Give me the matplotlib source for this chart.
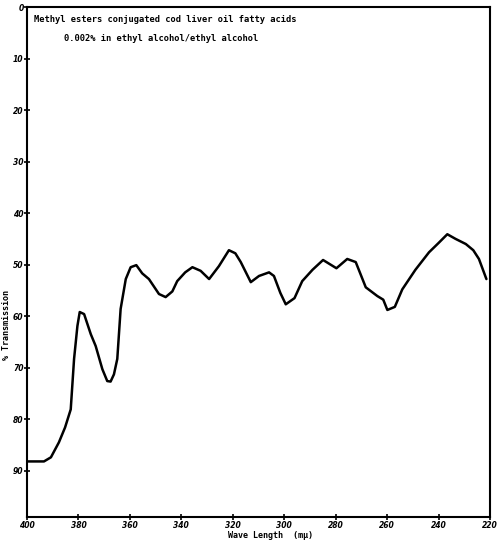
import numpy as np
import matplotlib
matplotlib.use("Agg")
import matplotlib.pyplot as plt

# wavelength (m-mu) and % transmission
wavelength = [400, 393.4, 390.7, 387.6, 385.2, 383.0, 381.7, 380.4, 379.5, 377.8,
              375.2, 373.3, 370.7, 368.8, 367.5, 366.2, 364.9, 363.6, 361.6, 359.7,
              357.5, 355.2, 352.6, 348.7, 346.1, 343.5, 341.6, 338.5, 335.7, 332.5,
              329.2, 325.4, 321.5, 319.0, 316.9, 313.0, 309.8, 305.9, 304.0, 301.5,
              299.4, 296.0, 293.0, 289.0, 284.9, 279.7, 275.5, 272.2, 268.3, 263.8,
              261.5, 259.9, 257.0, 254.1, 249.0, 243.7, 240.0, 236.6, 233.4, 229.4,
              226.5, 224.3, 221.4]
transmission = [88.2, 88.2, 87.4, 84.5, 81.6, 78.1, 68.3, 61.9, 59.2, 59.6,
                63.5, 65.8, 70.3, 72.6, 72.7, 71.3, 68.3, 58.6, 52.8, 50.5,
                50.1, 51.7, 52.8, 55.7, 56.3, 55.2, 53.2, 51.5, 50.5, 51.2,
                52.8, 50.3, 47.2, 47.8, 49.5, 53.4, 52.2, 51.5, 52.2, 55.5,
                57.7, 56.5, 53.2, 51.0, 49.1, 50.7, 48.9, 49.5, 54.4, 56.1,
                56.8, 58.8, 58.2, 54.8, 51.0, 47.6, 45.8, 44.1, 45.0, 46.0,
                47.2, 48.9, 52.8]

xticks = [400, 380, 360, 340, 320, 300, 280, 260, 240, 220]
yticks = [0, 10, 20, 30, 40, 50, 60, 70, 80, 90]

fig = plt.figure(figsize=(5, 5.42), dpi=100)
ax = fig.add_axes([0.054, 0.046, 0.926, 0.941])

ax.plot(wavelength, transmission, color="black", lw=1.8,
        solid_capstyle="round", solid_joinstyle="round")

ax.set_xlim(400, 220)
ax.set_ylim(99, 0)
ax.set_xticks(xticks)
ax.set_yticks(yticks)
ax.set_xticklabels([str(t) for t in xticks], fontsize=5.5, fontstyle="italic",
                   fontweight="bold")
ax.set_yticklabels([str(t) for t in yticks], fontsize=5.5, fontstyle="italic",
                   fontweight="bold")
ax.tick_params(direction="inout", length=4, width=1.2, pad=0.5)
for s in ax.spines.values():
    s.set_linewidth(1.5)

ax.text(0.015, 0.985, "Methyl esters conjugated cod liver oil fatty acids",
        transform=ax.transAxes, ha="left", va="top", fontsize=6.3,
        family="DejaVu Sans Mono", fontweight="bold")
ax.text(0.08, 0.948, "0.002% in ethyl alcohol/ethyl alcohol",
        transform=ax.transAxes, ha="left", va="top", fontsize=6.3,
        family="DejaVu Sans Mono", fontweight="bold")

fig.text(0.013, 1 - 325 / 542, "% Transmission", rotation=90, ha="center",
         va="center", fontsize=6, family="DejaVu Sans Mono", fontweight="bold")
fig.text(270 / 500, 1 - 535 / 542, "Wave Length  (m\u03bc)", ha="center",
         va="center", fontsize=6, family="DejaVu Sans Mono", fontweight="bold")

fig.savefig("out.png", dpi=100)
